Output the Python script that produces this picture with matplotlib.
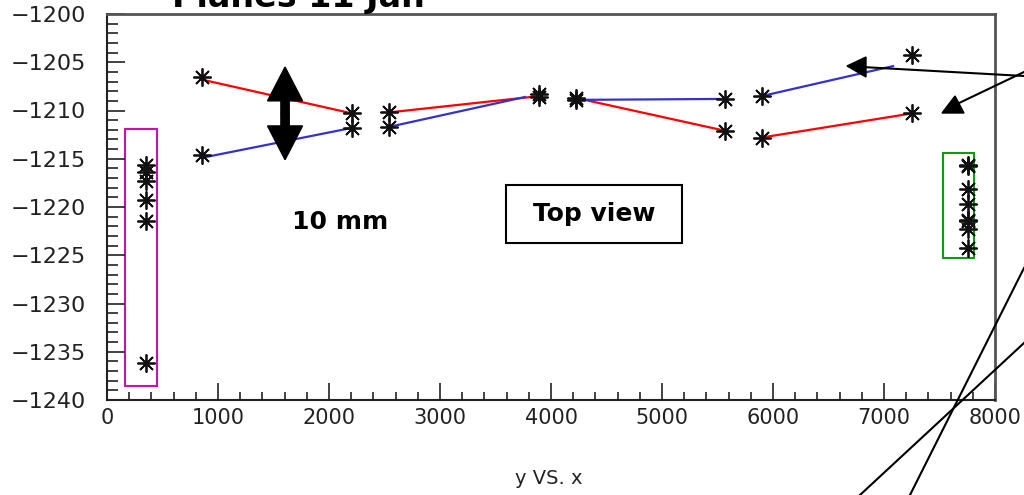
import numpy as np
import matplotlib
matplotlib.use("Agg")
import matplotlib.pyplot as plt
from matplotlib.lines import Line2D
from matplotlib.patches import Rectangle, Polygon, FancyArrow

W, H = 1024, 495

# ── Données : positions des fils (vue de dessus) ─────────────────────────────
# colonnes d'étoiles (mesures)
x_pts = [856, 856, 2207, 2207, 2540, 2540, 3892, 3892, 4225, 4225,
         5568, 5568, 5901, 5901, 7252, 7252]
y_pts = [-1206.5, -1214.6, -1210.3, -1211.8, -1210.2, -1211.7, -1208.3, -1208.6,
         -1208.7, -1208.9, -1208.8, -1212.1, -1208.5, -1212.8, -1204.2, -1210.3]

# colonne de gauche (encadré magenta)
x_gauche = [351, 351, 351, 351, 351, 351]
y_gauche = [-1215.6, -1216.4, -1217.3, -1219.3, -1221.5, -1236.2]

# colonne de droite (encadré vert)
x_droite = [7757, 7757, 7757, 7757, 7757, 7757, 7757, 7757]
y_droite = [-1215.6, -1215.8, -1218.1, -1219.7, -1221.3, -1221.5, -1222.3, -1224.2]

# segments rouges et bleus : (x0, x1), (y0, y1)
rouge_x = [(856, 2207), (2540, 3900), (4225, 5568), (5901, 7252)]
rouge_y = [(-1206.8, -1210.3), (-1210.2, -1208.5), (-1208.7, -1212.1), (-1212.8, -1210.3)]
bleu_x = [(856, 2207), (2540, 3766), (4225, 5568), (5901, 7081)]
bleu_y = [(-1214.9, -1211.8), (-1211.7, -1208.6), (-1208.9, -1208.8), (-1208.5, -1205.4)]

x_ticks = [0, 1000, 2000, 3000, 4000, 5000, 6000, 7000, 8000]
y_ticks = [-1240, -1235, -1230, -1225, -1220, -1215, -1210, -1205, -1200]


def fpx(x, y):
    """Pixels (origine en haut à gauche) -> fraction de figure."""
    return x / W, 1 - y / H


fig = plt.figure(figsize=(W / 100, H / 100), dpi=100)
ax = fig.add_axes([107 / W, 1 - 400 / H, 888 / W, 386 / H])

ax.set_xlim(0, 8000)
ax.set_ylim(-1240, -1200)
ax.set_xticks(x_ticks)
ax.set_yticks(y_ticks)
ax.set_xticks(np.arange(0, 8001, 200), minor=True)
ax.set_yticks(np.arange(-1240, -1199, 1), minor=True)
ax.set_xticklabels([str(v) for v in x_ticks])
ax.set_yticklabels(["\u2212" + str(-v) for v in y_ticks])

ax.tick_params(axis="x", which="major", direction="in", length=12, width=1.2,
               labelsize=15, pad=6, colors="#222222")
ax.tick_params(axis="x", which="minor", direction="in", length=6, width=1.2,
               colors="#222222")
ax.tick_params(axis="y", which="major", direction="in", length=13, width=1.2,
               labelsize=16, pad=15, colors="#222222")
ax.tick_params(axis="y", which="minor", direction="in", length=8, width=1.2,
               colors="#222222")

for side in ["left", "bottom"]:
    ax.spines[side].set_linewidth(1.5)
    ax.spines[side].set_color("#222222")
for side in ["top", "right"]:
    ax.spines[side].set_linewidth(2)
    ax.spines[side].set_color("#555555")

# segments
for xs, ys in zip(rouge_x, rouge_y):
    ax.plot(xs, ys, color="#ff0000", lw=1.6, zorder=2)
for xs, ys in zip(bleu_x, bleu_y):
    ax.plot(xs, ys, color="#3333cc", lw=1.6, zorder=2)

# étoiles
etoile = dict(marker=(8, 2, 0), markersize=13, markeredgewidth=1.3,
              color="#111111", linestyle="none", zorder=3)
ax.plot(x_pts, y_pts, **etoile)
ax.plot(x_gauche, y_gauche, **etoile)
ax.plot(x_droite, y_droite, **etoile)
ax.plot(x_pts + x_gauche + x_droite, y_pts + y_gauche + y_droite,
        marker="o", markersize=3, color="#111111", linestyle="none", zorder=4)

# encadrés
ax.add_patch(Rectangle((162, -1238.5), 288, 26.6, fill=False,
                       edgecolor="#cc11aa", lw=1.5, zorder=1))
ax.add_patch(Rectangle((7532, -1225.3), 279, 10.9, fill=False,
                       edgecolor="#119911", lw=1.5, zorder=1))

# double flèche 10 mm
x_fl, y_mid = 1604, -1210.3
for dy in (4.8, -4.8):
    ax.add_patch(FancyArrow(x_fl, y_mid, 0, dy, width=75, head_width=315,
                            head_length=3.5, length_includes_head=True,
                            color="black", zorder=5))
ax.text(2099, -1221.6, "10 mm", fontsize=18, fontweight="bold",
        ha="center", va="center")

# cadre "Top view"
ax.add_patch(Rectangle((3595, -1223.7), 1585, 6.0, fill=False,
                       edgecolor="black", lw=1.5, zorder=5))
ax.text(4387, -1220.7, "Top view", fontsize=18, fontweight="bold",
        ha="center", va="center")

# titre (coupé en haut) et légende d'axe
fig.text(*fpx(298, 7), "Planes 11 Jan", fontsize=24, fontweight="bold",
         ha="center", va="baseline")
fig.text(*fpx(549, 478), "y VS. x", fontsize=14, ha="center", va="center",
         color="#222222")

# flèches et traits à droite (hors du graphe)
def trait(p0, p1):
    (x0, y0), (x1, y1) = fpx(*p0), fpx(*p1)
    fig.add_artist(Line2D([x0, x1], [y0, y1], transform=fig.transFigure,
                          color="black", lw=1.5))

def tete(pts):
    fig.add_artist(Polygon([fpx(*p) for p in pts], closed=True,
                           transform=fig.transFigure, color="black"))

trait((862, 67), (1024, 76))
tete([(847, 66), (866, 57), (866, 77)])
trait((1024, 72), (957, 104))
tete([(942, 113), (964, 113), (955, 96)])

trait((860, 495), (1024, 343))
trait((910, 495), (1024, 268))

fig.savefig("out.png", dpi=100)
